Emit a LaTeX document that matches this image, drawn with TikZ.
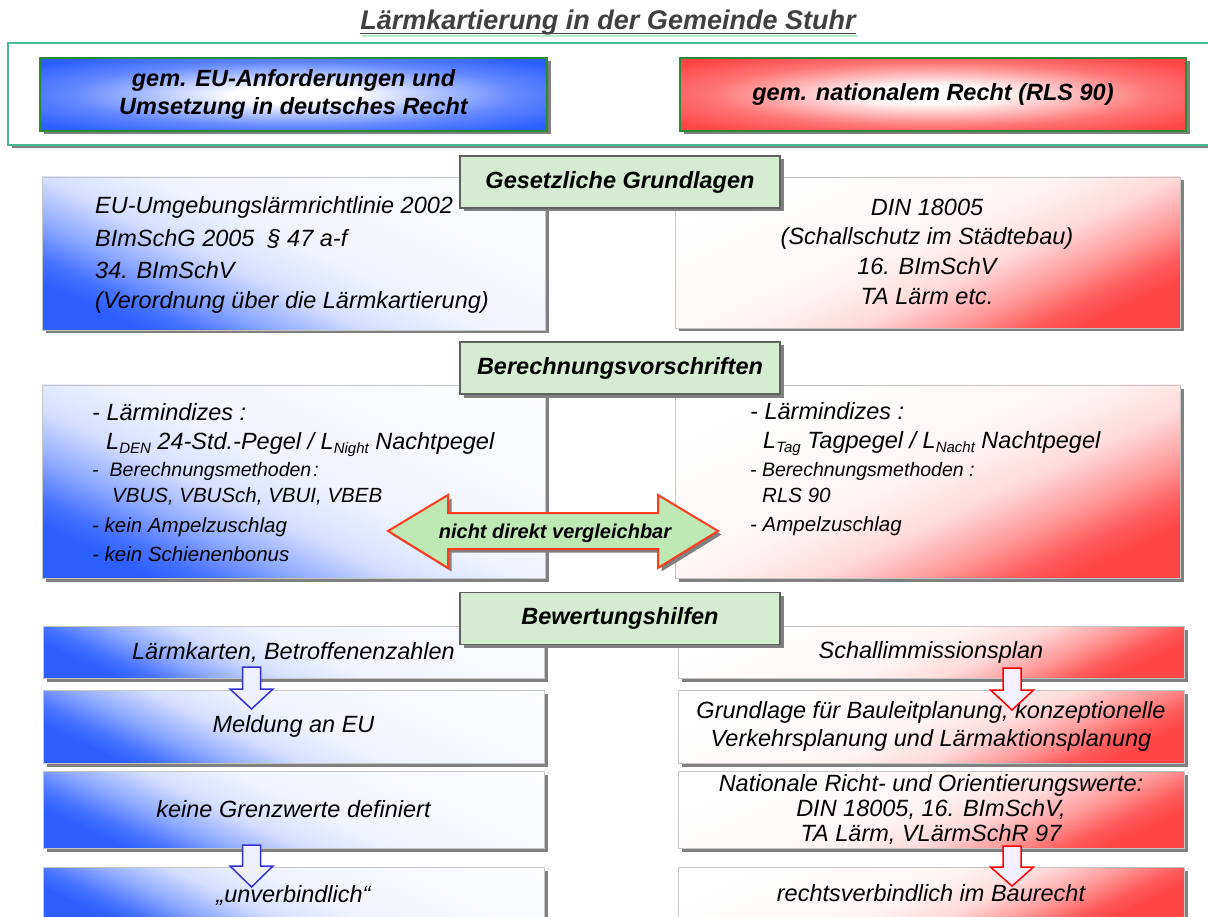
\documentclass[tikz,border=0pt]{standalone}
\usepackage{fontspec}
\setmainfont{Liberation Sans}
\usetikzlibrary{shadows,calc}
\definecolor{eublue}{RGB}{45,95,255}
\definecolor{natred}{RGB}{255,70,70}
\definecolor{lblgreen}{RGB}{212,236,208}
\definecolor{framegreen}{RGB}{70,185,145}
\definecolor{glowgreen}{RGB}{180,235,200}
\definecolor{hdrgreen}{RGB}{40,140,50}
\definecolor{arrowred}{RGB}{255,60,30}
\definecolor{arrowfill}{RGB}{190,232,180}
\definecolor{arrowblue}{RGB}{50,50,210}
\definecolor{titlegray}{RGB}{64,64,64}
\pgfdeclareverticalshading{eufade}{100bp}{color(0bp)=(eublue); color(25bp)=(eublue); color(29bp)=(eublue!88); color(35bp)=(eublue!55); color(43bp)=(eublue!20); color(52bp)=(eublue!7); color(75bp)=(eublue!2); color(100bp)=(white)}
\pgfdeclareverticalshading{natfade}{100bp}{color(0bp)=(natred); color(25bp)=(natred); color(29bp)=(natred!88); color(35bp)=(natred!55); color(43bp)=(natred!20); color(52bp)=(natred!6); color(75bp)=(white); color(100bp)=(white)}
\pgfdeclareradialshading{euhdr}{\pgfpoint{0bp}{0bp}}{color(0bp)=(white); color(6bp)=(white); color(22bp)=(eublue!75); color(32bp)=(eublue); color(50bp)=(eublue)}
\pgfdeclareradialshading{nathdr}{\pgfpoint{0bp}{0bp}}{color(0bp)=(white); color(6bp)=(white); color(22bp)=(natred!75); color(32bp)=(natred); color(50bp)=(natred)}
\begin{document}
\begin{tikzpicture}[x=1pt,y=-1pt,
  every node/.style={inner sep=0pt},
  shad/.style={drop shadow={shadow xshift=3.5pt,shadow yshift=-3.5pt,fill=black!50,opacity=1}},
  sbox/.style={draw=gray!45, line width=0.8pt, shad},
  eubox/.style={sbox, shading=eufade, shading angle=-25},
  natbox/.style={sbox, shading=natfade, shading angle=25},
  hdrbox/.style={draw=hdrgreen, line width=2.4pt, shad, minimum height=73pt, align=center,
    font=\fontsize{23.5}{28}\selectfont\bfseries\itshape},
  lbl/.style={draw=gray!75!black, line width=1.2pt, fill=lblgreen, shad, minimum width=320pt,
    minimum height=52pt, font=\fontsize{23.5}{26}\selectfont\bfseries\itshape},
  tx/.style={font=\fontsize{23.5}{28}\selectfont\itshape},
  txs/.style={font=\fontsize{20.5}{24}\selectfont\itshape},
  txss/.style={font=\fontsize{19.5}{24}\selectfont\itshape},
  dnblue/.style={draw=arrowblue, line width=1.5pt, fill={rgb,255:red,238;green,240;blue,255}, line join=miter},
  dnred/.style={draw=red, line width=1.5pt, fill={rgb,255:red,245;green,240;blue,255}, line join=miter}
]
\useasboundingbox (0,0) rectangle (1208,917);
\fill[white] (0,0) rectangle (1208,917);

% title
\node[font=\fontsize{27}{30}\selectfont\bfseries\itshape, text=titlegray, anchor=base] (title) at (608,30) {Lärmkartierung in der Gemeinde Stuhr};
\draw[glowgreen, line width=2.5pt] ($(title.base west)+(2,6)$) -- ($(title.base east)+(2,6)$);
\draw[titlegray, line width=1.6pt] ($(title.base west)+(0,3.5)$) -- ($(title.base east)+(0,3.5)$);

% frame with the two headers
\node[draw=framegreen, line width=1.8pt, fill=white, shad, minimum width=1232pt, minimum height=102pt] (frame) at (624,94) {};
\node[hdrbox, shading=euhdr, minimum width=507pt] (hdrL) at (293.5,94.5) {gem. EU-Anforderungen und\\Umsetzung in deutsches Recht};
\node[hdrbox, shading=nathdr, minimum width=506pt] (hdrR) at (933,94.5) {gem. nationalem Recht (RLS 90)};

% section 1
\node[eubox, minimum width=503pt, minimum height=153pt] (eu1) at (293.5,253.5) {};
\node[natbox, minimum width=505pt, minimum height=151pt] (nat1) at (927.5,252.5) {};
\node[lbl] (lbl1) at (620,182) {Gesetzliche Grundlagen};
\node[tx, anchor=base west] (eu1a) at (95,214) {EU-Umgebungslärmrichtlinie 2002};
\node[tx, anchor=base west] (eu1b) at (95,247) {BImSchG 2005\ \ § 47 a-f};
\node[tx, anchor=base west] (eu1c) at (95,279) {34. BImSchV};
\node[tx, anchor=base west] (eu1d) at (95,309) {(Verordnung über die Lärmkartierung)};
\node[tx, anchor=base] (nat1a) at (927,216) {DIN 18005};
\node[tx, anchor=base] (nat1b) at (927,245) {(Schallschutz im Städtebau)};
\node[tx, anchor=base] (nat1c) at (927,275) {16. BImSchV};
\node[tx, anchor=base] (nat1d) at (927,305) {TA Lärm etc.};

% section 2
\node[eubox, minimum width=503pt, minimum height=193pt] (eu2) at (293.5,481.5) {};
\node[natbox, minimum width=505pt, minimum height=193pt] (nat2) at (927.5,481.5) {};
\node[lbl] (lbl2) at (620,368) {Berechnungsvorschriften};
\node[tx, anchor=base west] (eu2a) at (92,420) {- Lärmindizes :};
\node[tx, anchor=base west] (eu2b) at (106,449) {L\raisebox{-4pt}{\fontsize{15}{15}\selectfont DEN} 24-Std.-Pegel / L\raisebox{-4pt}{\fontsize{15}{15}\selectfont Night} Nachtpegel};
\node[txss, anchor=base west] (eu2c) at (92,476) {-\hspace{11pt}Berechnungsmethoden\hspace{2pt}:};
\node[txs, anchor=base west] (eu2d) at (112,502) {VBUS, VBUSch, VBUI, VBEB};
\node[txs, anchor=base west] (eu2e) at (92,532) {- kein Ampelzuschlag};
\node[txs, anchor=base west] (eu2f) at (92,561) {- kein Schienenbonus};
\node[tx, anchor=base west] (nat2a) at (750,419) {- Lärmindizes :};
\node[tx, anchor=base west] (nat2b) at (763,448) {L\raisebox{-4pt}{\fontsize{15}{15}\selectfont Tag} Tagpegel / L\raisebox{-4pt}{\fontsize{15}{15}\selectfont Nacht} Nachtpegel};
\node[txss, anchor=base west] (nat2c) at (750,476) {- Berechnungsmethoden :};
\node[txs, anchor=base west] (nat2d) at (762,502) {RLS 90};
\node[txs, anchor=base west] (nat2e) at (750,531) {- Ampelzuschlag};

% double arrow
\draw[draw=arrowred, line width=2pt, fill=arrowfill, line join=miter, shad]
  (388,531) -- (448,495) -- (448,513) -- (658,513) -- (658,495) -- (718,531)
  -- (658,568) -- (658,549) -- (448,549) -- (448,568) -- cycle;
\node[font=\fontsize{20}{24}\selectfont\bfseries\itshape, anchor=base] (vgl) at (555,538) {nicht direkt vergleichbar};

% section 3
\node[eubox, minimum width=501pt, minimum height=52pt, tx] (L1) at (293.5,652) {Lärmkarten, Betroffenenzahlen};
\node[eubox, minimum width=501pt, minimum height=73pt, tx] (L2) at (293.5,726.5) {Meldung an EU};
\node[eubox, minimum width=501pt, minimum height=77pt, tx] (L3) at (293.5,809.5) {keine Grenzwerte definiert};
\node[eubox, minimum width=501pt, minimum height=56pt, tx] (L4) at (293.5,895) {„unverbindlich“};
\node[natbox, minimum width=506pt, minimum height=52pt, tx] (R1) at (931,652) {Schallimmissionsplan};
\node[natbox, minimum width=506pt, minimum height=73pt, tx, align=center] (R2) at (931,726.5) {Grundlage für Bauleitplanung, konzeptionelle\\Verkehrsplanung und Lärmaktionsplanung};
\node[natbox, minimum width=506pt, minimum height=77pt, font=\fontsize{23.5}{25}\selectfont\itshape, align=center] (R3) at (931,809.5) {Nationale Richt- und Orientierungswerte:\\DIN 18005, 16. BImSchV,\\TA Lärm, VLärmSchR 97};
\node[natbox, minimum width=506pt, minimum height=52pt, tx] (R4) at (931,893) {rechtsverbindlich im Baurecht};

% down arrows
\draw[dnblue] (242.5,667) -- (260.5,667) -- (260.5,689) -- (273,689) -- (251.5,709) -- (230,689) -- (242.5,689) -- cycle;
\draw[dnblue] (242.5,845) -- (260.5,845) -- (260.5,866) -- (273,866) -- (251.5,887) -- (230,866) -- (242.5,866) -- cycle;
\draw[dnred] (1003,668) -- (1021,668) -- (1021,690) -- (1033.5,690) -- (1012,710) -- (990.5,690) -- (1003,690) -- cycle;
\draw[dnred] (1003,846) -- (1021,846) -- (1021,867) -- (1033.5,867) -- (1012,886) -- (990.5,867) -- (1003,867) -- cycle;

\node[lbl] (lbl3) at (620,618.5) {Bewertungshilfen};
\end{tikzpicture}
\end{document}
